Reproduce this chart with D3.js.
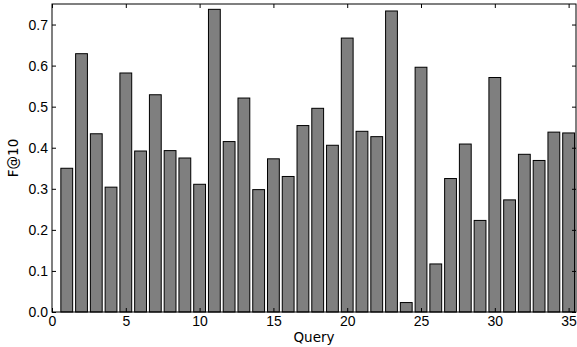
<!DOCTYPE html>
<html>
<head>
<meta charset="utf-8">
<script src="https://cdn.jsdelivr.net/npm/d3@7"></script>
<style>
  body { margin: 0; background: #fff; }
  svg { display: block; font-family: "DejaVu Sans", sans-serif; }
</style>
</head>
<body>
<svg id="chart" width="577" height="347"></svg>
<script>
// values
var queries = d3.range(1, 36);
var fAt10 = [0.350, 0.629, 0.434, 0.304, 0.582, 0.392, 0.529, 0.393, 0.375, 0.311,
             0.737, 0.415, 0.521, 0.298, 0.373, 0.330, 0.454, 0.496, 0.406, 0.667,
             0.440, 0.427, 0.733, 0.023, 0.596, 0.117, 0.325, 0.409, 0.223, 0.571,
             0.273, 0.384, 0.369, 0.438, 0.436];
var xTicks = [0, 5, 10, 15, 20, 25, 30, 35];
var yTicks = [0.0, 0.1, 0.2, 0.3, 0.4, 0.5, 0.6, 0.7];

var padLeft = 52, padTop = 4, padRight = 576, padBottom = 312;

var svg = d3.select("#chart");

var x = d3.scaleLinear().domain([0, 35.5]).range([padLeft, padRight]);
var y = d3.scaleLinear().domain([0, 0.75]).range([padBottom, padTop]);

var barW = 0.8;

// bars
svg.append("g")
  .selectAll("rect")
  .data(fAt10)
  .enter()
  .append("rect")
  .attr("x", function (d, i) { return x(queries[i] - barW / 2); })
  .attr("y", function (d) { return y(d); })
  .attr("width", function () { return x(barW) - x(0); })
  .attr("height", function (d) { return y(0) - y(d); })
  .style("fill", "#7f7f7f")
  .style("stroke", "#000")
  .style("stroke-width", 1);

// ticks pointing inward on all four sides
var tickLen = 4;
var xAxisB = d3.axisBottom(x).tickValues(xTicks).tickSizeInner(-tickLen).tickSizeOuter(0)
  .tickPadding(4).tickFormat(d3.format("d"));
var xAxisT = d3.axisTop(x).tickValues(xTicks).tickSizeInner(-tickLen).tickSizeOuter(0)
  .tickFormat("");
var yAxisL = d3.axisLeft(y).tickValues(yTicks).tickSizeInner(-tickLen).tickSizeOuter(0)
  .tickPadding(4).tickFormat(d3.format(".1f"));
var yAxisR = d3.axisRight(y).tickValues(yTicks).tickSizeInner(-tickLen).tickSizeOuter(0)
  .tickFormat("");

function styleAxis(g) {
  g.select(".domain").remove();
  g.selectAll("line").style("stroke", "#000");
  g.selectAll("text").style("font-size", "14px").style("fill", "#000");
}

svg.append("g").attr("transform", "translate(0," + padBottom + ")").call(xAxisB).call(styleAxis);
svg.append("g").attr("transform", "translate(0," + padTop + ")").call(xAxisT).call(styleAxis);
svg.append("g").attr("transform", "translate(" + padLeft + ",0)").call(yAxisL).call(styleAxis);
svg.append("g").attr("transform", "translate(" + padRight + ",0)").call(yAxisR).call(styleAxis);

// frame
svg.append("rect")
  .attr("x", padLeft).attr("y", padTop)
  .attr("width", padRight - padLeft).attr("height", padBottom - padTop)
  .style("fill", "none").style("stroke", "#000").style("stroke-width", 1);

// labels
svg.append("text")
  .attr("x", (padLeft + padRight) / 2).attr("y", 342)
  .attr("text-anchor", "middle")
  .style("font-size", "13.5px")
  .text("Query");

svg.append("text")
  .attr("transform", "translate(18," + ((padTop + padBottom) / 2) + ") rotate(-90)")
  .attr("text-anchor", "middle")
  .style("font-size", "13.5px")
  .text("F@10");
</script>
</body>
</html>
